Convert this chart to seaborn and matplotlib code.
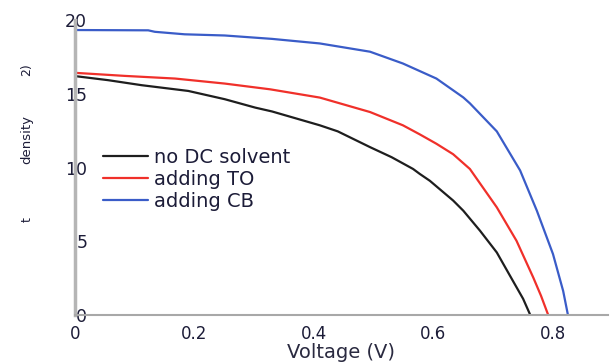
import numpy as np
import pandas as pd
import seaborn as sns
import matplotlib
matplotlib.use("Agg")
import matplotlib.pyplot as plt
from matplotlib.lines import Line2D

# ---- data ----
series_names = ["no DC solvent", "adding TO", "adding CB"]
series_colors = ["#1e1e1e", "#f0302a", "#3a5cc8"]

V_black = [0.0, 0.056, 0.112, 0.19, 0.251, 0.302, 0.33, 0.41, 0.44, 0.494, 0.53, 0.566,
           0.577, 0.594, 0.633, 0.65, 0.678, 0.706, 0.733, 0.75, 0.762]
J_black = [16.2, 15.92, 15.58, 15.19, 14.63, 14.06, 13.8, 12.86, 12.45, 11.38, 10.7, 9.9,
           9.57, 9.1, 7.76, 7.07, 5.71, 4.24, 2.31, 1.1, 0.0]

V_red = [0.0, 0.084, 0.168, 0.251, 0.327, 0.41, 0.494, 0.549, 0.577, 0.605, 0.633, 0.661,
         0.706, 0.739, 0.767, 0.78, 0.792]
J_red = [16.42, 16.21, 16.03, 15.69, 15.3, 14.74, 13.76, 12.86, 12.25, 11.61, 10.9, 9.9,
         7.3, 5.03, 2.54, 1.3, 0.0]

V_blue = [0.0, 0.123, 0.134, 0.184, 0.251, 0.33, 0.41, 0.494, 0.549, 0.605, 0.65, 0.661,
          0.706, 0.745, 0.773, 0.80, 0.817, 0.825]
J_blue = [19.32, 19.3, 19.2, 19.03, 18.95, 18.72, 18.41, 17.85, 17.05, 16.03, 14.75, 14.35,
          12.45, 9.8, 7.07, 4.13, 1.63, 0.0]

x_ticks = [0, 0.2, 0.4, 0.6, 0.8]
x_ticklabels = ["0", "0.2", "0.4", "0.6", "0.8"]
y_ticks = [0, 5, 10, 15, 20]
y_ticklabels = ["0", "5", "10", "15", "20"]

frames = []
for name, v, j in zip(series_names, [V_black, V_red, V_blue], [J_black, J_red, J_blue]):
    frames.append(pd.DataFrame({"Voltage": v, "J": j, "series": name}))
df = pd.concat(frames, ignore_index=True)

sns.set_theme(style="white")
plt.rcParams["font.family"] = ["DejaVu Sans"]

W, H = 613, 362
fig = plt.figure(figsize=(W / 100, H / 100), dpi=100)
ax = fig.add_axes([74.7 / W, 1 - 315 / H, (608 - 74.7) / W, (315 - 20) / H])

txt_color = "#1c1c38"

sns.lineplot(data=df, x="Voltage", y="J", hue="series", hue_order=series_names,
             palette=series_colors, sort=False, estimator=None, linewidth=1.6,
             ax=ax, legend=False)

ax.set_xlim(0, 0.892)
ax.set_ylim(0, 20)

ax.set_xticks(x_ticks)
ax.set_xticklabels(x_ticklabels)
ax.set_yticks(y_ticks)
ax.set_yticklabels(y_ticklabels)

ax.tick_params(axis="x", direction="in", length=3, width=1, color="#999999",
               pad=7, labelsize=12, labelcolor=txt_color)
ax.tick_params(axis="y", length=0, pad=-9, labelsize=12.5, labelcolor=txt_color)

for s in ["top", "right"]:
    ax.spines[s].set_visible(False)
ax.spines["left"].set_color("#b5b5b5")
ax.spines["left"].set_linewidth(2.5)
ax.spines["bottom"].set_color("#a8a8a8")
ax.spines["bottom"].set_linewidth(1.5)

ax.set_xlabel("Voltage (V)", fontsize=14, color="#2a2a40", va="center")
ax.xaxis.set_label_coords(0.5, (315 - 353) / 295)
ax.set_ylabel("")

# remnants of the y-axis label
fig.text(27 / W, 1 - 70 / H, "2)", rotation=90, ha="center", va="center",
         fontsize=9, color=txt_color)
fig.text(27 / W, 1 - 140 / H, "density", rotation=90, ha="center", va="center",
         fontsize=9.5, color=txt_color)
fig.text(27 / W, 1 - 220 / H, "t", rotation=90, ha="center", va="center",
         fontsize=9, color=txt_color)

# legend
handles = [Line2D([], [], color=c, linewidth=1.6) for c in series_colors]
leg = ax.legend(handles, series_names, loc="upper left",
                bbox_to_anchor=(103 / W, 1 - 148 / H), bbox_transform=fig.transFigure,
                frameon=False, fontsize=14, handlelength=2.3, handletextpad=0.3,
                labelspacing=0.15, borderpad=0, borderaxespad=0)
for t in leg.get_texts():
    t.set_color(txt_color)

fig.savefig("out.png", dpi=100)
